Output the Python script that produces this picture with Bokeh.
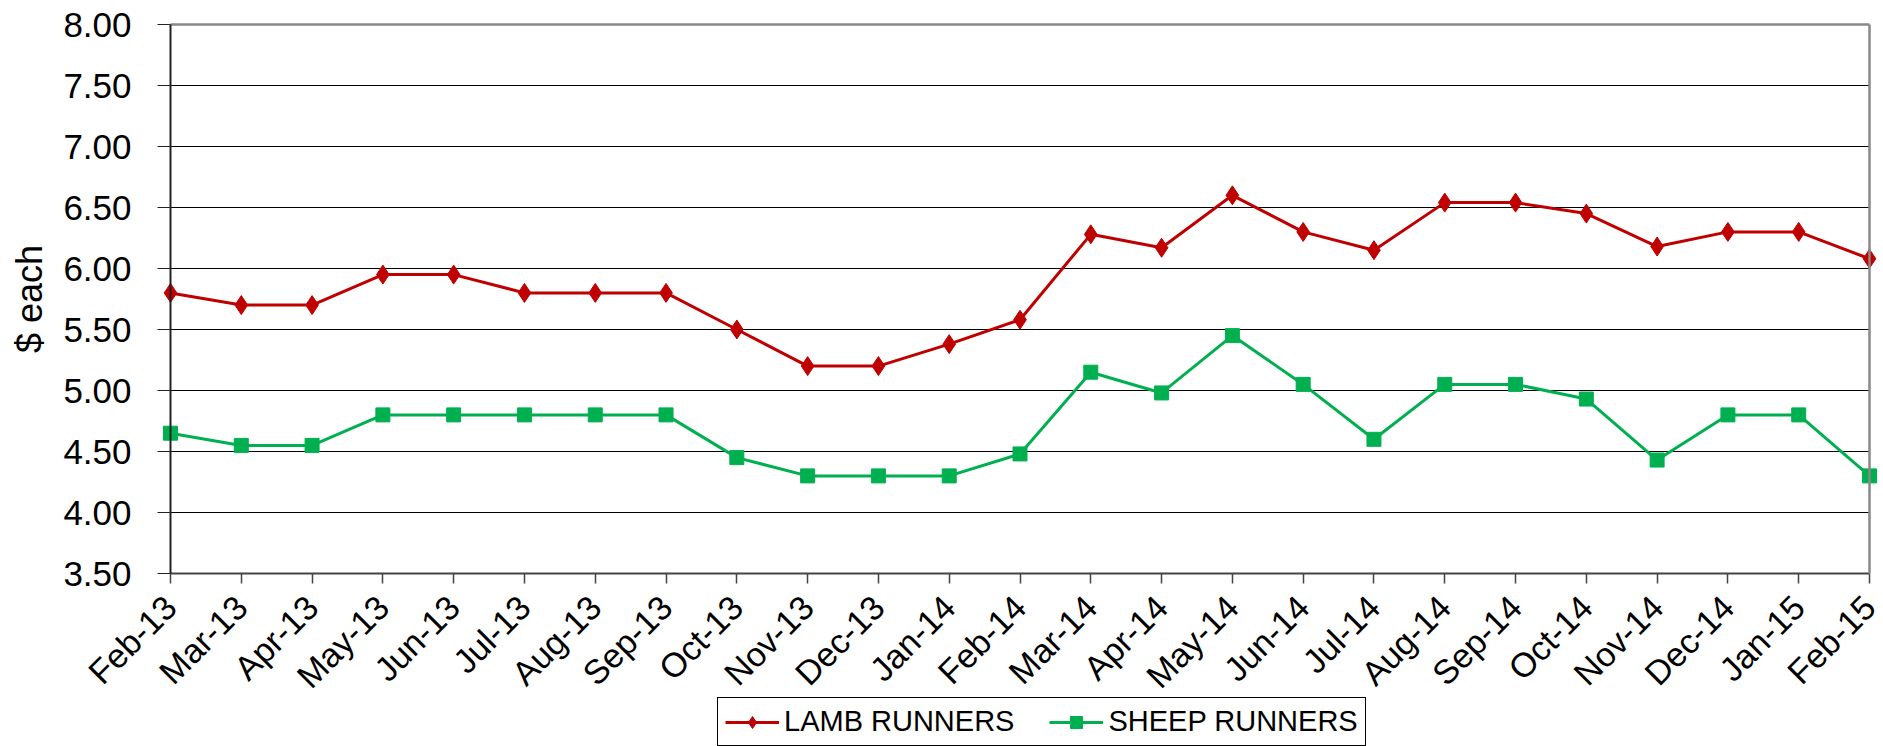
from bokeh.plotting import figure
from bokeh.models import FixedTicker, Legend, LegendItem, Range1d, LinearAxis
from bokeh.embed import file_html
from bokeh.resources import INLINE

months = ["Feb-13", "Mar-13", "Apr-13", "May-13", "Jun-13", "Jul-13", "Aug-13", "Sep-13",
          "Oct-13", "Nov-13", "Dec-13", "Jan-14", "Feb-14", "Mar-14", "Apr-14", "May-14",
          "Jun-14", "Jul-14", "Aug-14", "Sep-14", "Oct-14", "Nov-14", "Dec-14", "Jan-15", "Feb-15"]
lamb = [5.80, 5.70, 5.70, 5.95, 5.95, 5.80, 5.80, 5.80, 5.50, 5.20, 5.20, 5.38, 5.58,
        6.28, 6.17, 6.60, 6.30, 6.15, 6.54, 6.54, 6.45, 6.18, 6.30, 6.30, 6.08]
sheep = [4.65, 4.55, 4.55, 4.80, 4.80, 4.80, 4.80, 4.80, 4.45, 4.30, 4.30, 4.30, 4.48,
         5.15, 4.98, 5.45, 5.05, 4.60, 5.05, 5.05, 4.93, 4.43, 4.80, 4.80, 4.30]
y_ticks = [3.5, 4.0, 4.5, 5.0, 5.5, 6.0, 6.5, 7.0, 7.5, 8.0]
grid_ticks = [4.0, 4.5, 5.0, 5.5, 6.0, 6.5, 7.0, 7.5]

FONT = "'Liberation Sans', Arial, sans-serif"
RED = "#C00000"
GREEN = "#00B050"

W, H = 1883, 746
# pixel box of the value area inside the page
LEFT, RIGHT, TOP, BOTTOM = 170, 1869, 24, 573
Y_MIN, Y_MAX = 3.5, 8.0
n = len(months)
X_MIN, X_MAX = 0, n - 1

ux = (RIGHT - LEFT) / (X_MAX - X_MIN)
uy = (BOTTOM - TOP) / (Y_MAX - Y_MIN)
x_range = Range1d(X_MIN - LEFT / ux, X_MAX + (W - RIGHT) / ux)
y_range = Range1d(Y_MIN - (H - BOTTOM) / uy, Y_MAX + TOP / uy)

x = list(range(n))

p = figure(frame_width=W, frame_height=H, output_backend="svg", toolbar_location=None,
           x_range=x_range, y_range=y_range,
           min_border_left=0, min_border_right=0, min_border_top=0, min_border_bottom=0)
p.outline_line_color = None
p.background_fill_color = "white"
p.border_fill_color = "white"
p.xgrid.visible = False
p.ygrid.visible = False

# horizontal grid lines across the value area
p.segment(x0=[X_MIN] * len(grid_ticks), x1=[X_MAX] * len(grid_ticks),
          y0=grid_ticks, y1=grid_ticks, line_color="black", line_width=1.2)

# x axis, drawn at the 3.50 level
p.xaxis.fixed_location = Y_MIN
p.xaxis.bounds = (X_MIN, X_MAX)
p.xaxis.ticker = FixedTicker(ticks=x)
p.xaxis.major_label_overrides = {i: m for i, m in enumerate(months)}
p.xaxis.major_label_orientation = 0.785398
p.xaxis.major_label_text_font = FONT
p.xaxis.major_label_text_font_size = "34px"
p.xaxis.major_label_text_color = "black"
p.xaxis.major_tick_out = 10
p.xaxis.major_tick_in = 0
p.xaxis.minor_tick_line_color = None
p.xaxis.axis_line_color = "#444444"
p.xaxis.axis_line_width = 2
p.xaxis.major_tick_line_color = "#444444"
p.xaxis.major_tick_line_width = 1.5
p.xaxis.major_label_standoff = 18

# y axis, drawn at the first month
p.yaxis.fixed_location = X_MIN
p.yaxis.bounds = (Y_MIN, Y_MAX)
p.yaxis.ticker = FixedTicker(ticks=y_ticks)
p.yaxis.major_label_overrides = {t: f"{t:.2f}" for t in y_ticks}
p.yaxis.major_label_text_font = FONT
p.yaxis.major_label_text_font_size = "35px"
p.yaxis.major_label_text_color = "black"
p.yaxis.major_tick_out = 13
p.yaxis.major_tick_in = 0
p.yaxis.minor_tick_line_color = None
p.yaxis.axis_line_color = "#222222"
p.yaxis.axis_line_width = 2
p.yaxis.major_tick_line_color = "#222222"
p.yaxis.major_label_standoff = 26
p.yaxis.axis_label = "$ each"
p.yaxis.axis_label_text_font = FONT
p.yaxis.axis_label_text_font_size = "36px"
p.yaxis.axis_label_text_font_style = "normal"
p.yaxis.axis_label_text_color = "black"
p.yaxis.axis_label_standoff = 10

# right and top borders of the value area
r_axis = LinearAxis(fixed_location=X_MAX, bounds=(Y_MIN, Y_MAX), ticker=FixedTicker(ticks=[]),
                    axis_line_color="#888888", axis_line_width=2.5,
                    major_tick_line_color=None, minor_tick_line_color=None,
                    major_label_text_font_size="0px")
p.add_layout(r_axis, "right")
t_axis = LinearAxis(fixed_location=Y_MAX, bounds=(X_MIN, X_MAX), ticker=FixedTicker(ticks=[]),
                    axis_line_color="#888888", axis_line_width=2.5,
                    major_tick_line_color=None, minor_tick_line_color=None,
                    major_label_text_font_size="0px")
p.add_layout(t_axis, "above")

l1 = p.line(x, lamb, line_color=RED, line_width=3)
m1 = p.scatter(x, lamb, marker="diamond", size=19, fill_color=RED, line_color=RED)
l2 = p.line(x, sheep, line_color=GREEN, line_width=3)
m2 = p.scatter(x, sheep, marker="square", size=14, fill_color=GREEN, line_color=GREEN)

legend = Legend(items=[LegendItem(label="LAMB RUNNERS", renderers=[l1, m1]),
                       LegendItem(label="SHEEP RUNNERS", renderers=[l2, m2])],
                orientation="horizontal", location=(717, 0),
                label_text_font=FONT, label_text_font_size="29px",
                label_text_color="black",
                glyph_width=54, glyph_height=30, label_standoff=5, spacing=35,
                padding=7, margin=0,
                border_line_color="black", border_line_alpha=1.0, border_line_width=1.5,
                background_fill_color="white", background_fill_alpha=1.0)
p.add_layout(legend, "center")

open("out.html", "w").write(file_html(p, INLINE))
